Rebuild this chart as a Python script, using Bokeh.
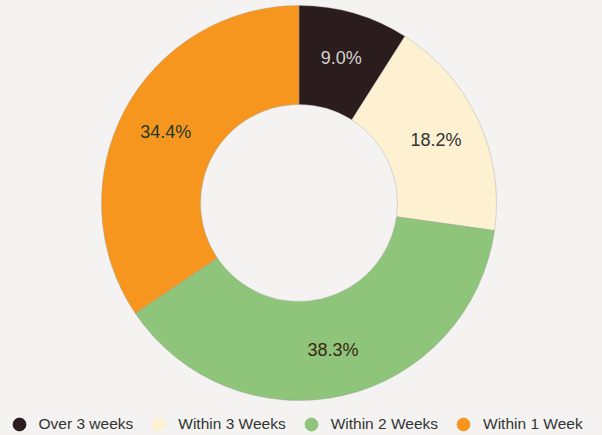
import numpy as np
from bokeh.plotting import figure
from bokeh.models import ColumnDataSource, Range1d, Legend, LegendItem
from bokeh.core.properties import value
from bokeh.embed import file_html
from bokeh.resources import INLINE

# ---- data ----
categories = ["Over 3 weeks", "Within 3 Weeks", "Within 2 Weeks", "Within 1 Week"]
percentages = [9.0, 18.2, 38.3, 34.4]
colors = ["#2b1d1d", "#fdf1d2", "#8fc47b", "#f7961f"]
label_colors = ["#d6d2cd", "#343434", "#3a2810", "#1f3a1f"]

BG = "#f4f3f2"
FONT = "Liberation Sans"

vals = np.array(percentages, dtype=float)
frac = vals / vals.sum()
cum = np.concatenate([[0.0], np.cumsum(frac)])
start = np.pi / 2 - cum[:-1] * 2 * np.pi
end = np.pi / 2 - cum[1:] * 2 * np.pi
mid = (start + end) / 2

R_OUT = 197.5
R_IN = 98.5
R_LAB = 151

src = ColumnDataSource(dict(
    cat=categories, start=start, end=end, color=colors,
    lx=R_LAB * np.cos(mid), ly=R_LAB * np.sin(mid),
    label=[f"{v:.1f}%" for v in percentages], lcolor=label_colors,
))

p = figure(width=602, height=435, output_backend="svg", toolbar_location=None,
           x_range=Range1d(-298.5, 303.5), y_range=Range1d(-232.5, 202.5),
           min_border=0, background_fill_color=BG, border_fill_color=BG)
p.axis.visible = False
p.grid.visible = False
p.outline_line_color = None

p.annular_wedge(x=0, y=0, inner_radius=R_IN, outer_radius=R_OUT,
                start_angle="start", end_angle="end", direction="clock",
                fill_color="color", line_color="#9a9a9a", line_width=0.6,
                line_alpha=0.6, source=src)

p.text(x="lx", y="ly", text="label", text_color="lcolor",
       text_font=value(FONT), text_font_size="18px",
       text_align="center", text_baseline="middle", source=src)

items = []
for c, col in zip(categories, colors):
    r = p.scatter(x=[np.nan], y=[np.nan], size=13, fill_color=col, line_color=col)
    items.append(LegendItem(label=c, renderers=[r]))

legend = Legend(items=items, orientation="horizontal", location=(2.5, -5),
                glyph_width=32, glyph_height=32, label_standoff=4, spacing=9,
                padding=0, margin=0, border_line_alpha=0, background_fill_alpha=0,
                label_text_font=FONT, label_text_font_size="15.5px",
                label_text_color="#333333")
p.add_layout(legend)

STYLE = "<style>html,body{margin:0;padding:0;background:%s;overflow:hidden}</style>" % BG
open("out.html", "w").write(file_html(p, INLINE).replace("<head>", "<head>" + STYLE, 1))
